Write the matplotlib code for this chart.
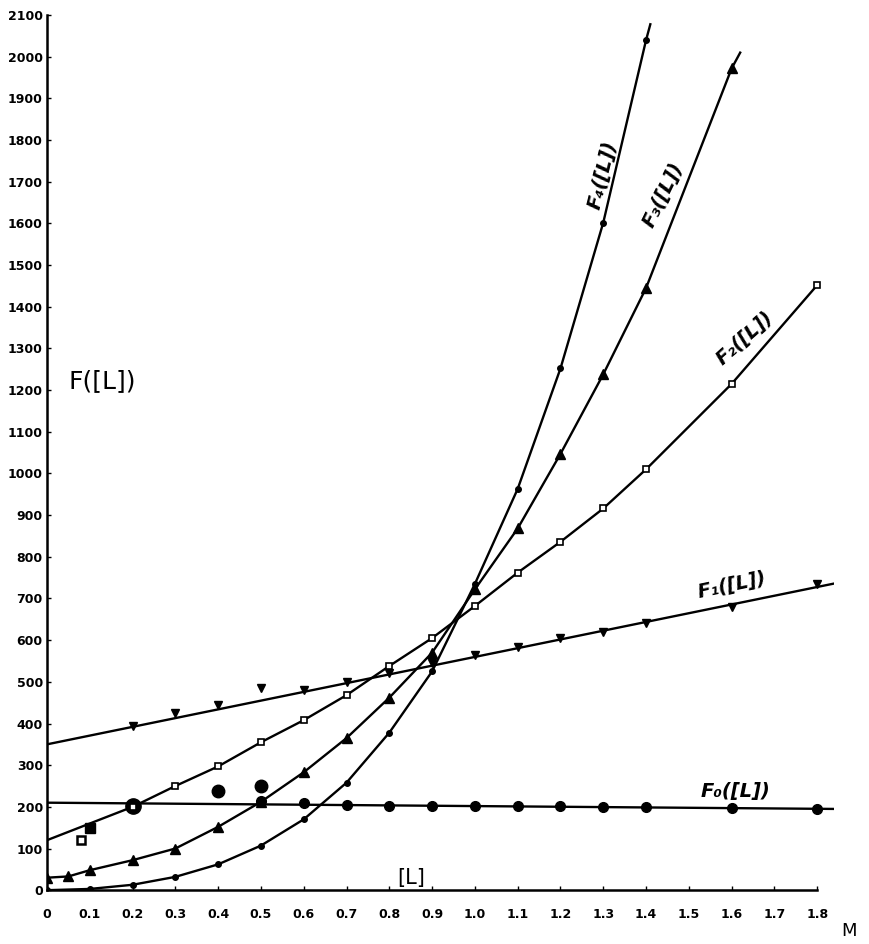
import matplotlib
matplotlib.use("Agg")
import matplotlib.pyplot as plt

# values
x_ticks = [0, 0.1, 0.2, 0.3, 0.4, 0.5, 0.6, 0.7, 0.8, 0.9, 1.0, 1.1, 1.2, 1.3, 1.4, 1.5, 1.6, 1.7, 1.8]
x_tick_labels = ["0", "0.1", "0.2", "0.3", "0.4", "0.5", "0.6", "0.7", "0.8", "0.9",
                 "1.0", "1.1", "1.2", "1.3", "1.4", "1.5", "1.6", "1.7", "1.8"]
y_ticks = list(range(0, 2101, 100))

# F0: nearly flat line, filled circles
f0_line_x = [0, 1.84]
f0_line_y = [210, 195]
f0_x = [0.2, 0.5, 0.6, 0.7, 0.8, 0.9, 1.0, 1.1, 1.2, 1.3, 1.4, 1.6, 1.8]
f0_y = [203, 213, 210, 205, 203, 203, 202, 202, 201, 200, 199, 197, 196]

# F1: straight line, inverted triangles
f1_line_x = [0, 1.84]
f1_line_y = [350, 736]
f1_x = [0.2, 0.3, 0.4, 0.5, 0.6, 0.7, 0.8, 0.9, 1.0, 1.1, 1.2, 1.3, 1.4, 1.6, 1.8]
f1_y = [395, 425, 444, 485, 480, 499, 522, 545, 564, 583, 605, 619, 640, 679, 735]

# F2: open squares
f2_x = [0, 0.2, 0.3, 0.4, 0.5, 0.6, 0.7, 0.8, 0.9, 1.0, 1.1, 1.2, 1.3, 1.4, 1.6, 1.8]
f2_y = [120, 200, 250, 297, 355, 408, 468, 538, 605, 682, 762, 836, 916, 1010, 1215, 1452]

# F3: filled triangles
f3_x = [0, 0.05, 0.1, 0.2, 0.3, 0.4, 0.5, 0.6, 0.7, 0.8, 0.9, 1.0, 1.1, 1.2, 1.3, 1.4, 1.6, 1.62]
f3_y = [30, 33, 48, 72, 100, 152, 212, 283, 365, 462, 570, 722, 868, 1047, 1238, 1445, 1972, 2010]

# F4: small dots
f4_x = [0, 0.1, 0.2, 0.3, 0.4, 0.5, 0.6, 0.7, 0.8, 0.9, 1.0, 1.1, 1.2, 1.3, 1.4, 1.41]
f4_y = [0, 3, 13, 32, 62, 107, 170, 258, 378, 525, 735, 963, 1252, 1602, 2040, 2078]

# stray points
stray_sq_x = [0.08]
stray_sq_y = [120]
stray_fsq_x = [0.1]
stray_fsq_y = [150]
stray_dot_x = [0.4, 0.5]
stray_dot_y = [237, 250]


def main():
    fig = plt.figure(figsize=(8.7, 9.44), dpi=100)
    ax = fig.add_axes([0.054, 0.057, 0.905, 0.927])
    lw = 1.7
    k = "black"

    ax.plot(f0_line_x, f0_line_y, color=k, lw=lw)
    ax.plot(f0_x, f0_y, "o", color=k, ms=7)
    ax.plot([0.2], [203], "o", color=k, ms=11)

    ax.plot(f1_line_x, f1_line_y, color=k, lw=lw)
    ax.plot(f1_x, f1_y, "v", color=k, ms=6)

    ax.plot(f2_x, f2_y, color=k, lw=lw)
    ax.plot(f2_x[1:], f2_y[1:], "s", color=k, mfc="white", mew=1.2, ms=5)

    ax.plot(f3_x, f3_y, color=k, lw=lw)
    ax.plot(f3_x[:-1], f3_y[:-1], "^", color=k, ms=7)

    ax.plot(f4_x, f4_y, color=k, lw=lw)
    ax.plot(f4_x[:-1], f4_y[:-1], "o", color=k, ms=4)

    ax.plot(stray_sq_x, stray_sq_y, "s", color=k, mfc="white", mew=1.8, ms=6)
    ax.plot(stray_fsq_x, stray_fsq_y, "s", color=k, ms=7)
    ax.plot(stray_dot_x, stray_dot_y, "o", color=k, ms=9)

    ax.set_xlim(0, 1.84)
    ax.set_ylim(0, 2100)
    for s in ["top", "right"]:
        ax.spines[s].set_visible(False)
    ax.spines["bottom"].set_bounds(0, 1.8)
    ax.spines["left"].set_linewidth(1.8)
    ax.spines["bottom"].set_linewidth(1.8)

    ax.set_xticks(x_ticks)
    ax.set_xticklabels(x_tick_labels)
    ax.set_yticks(y_ticks)
    ax.tick_params(axis="both", direction="in", length=3, width=1)
    ax.tick_params(axis="y", pad=3)
    ax.tick_params(axis="x", pad=13)
    for lab in ax.get_xticklabels() + ax.get_yticklabels():
        lab.set_fontweight("heavy")
        lab.set_fontsize(9)

    fig.text(0.985, 0.004, "M", fontsize=13, ha="right", va="bottom")
    ax.text(0.05, 1222, "F([L])", fontsize=18, ha="left", va="center")
    ax.text(0.85, 30, "[L]", fontsize=15, ha="center", va="center")

    lab_style = dict(fontsize=14, style="italic", fontweight="bold", ha="center", va="center")
    ax.text(1.30, 1716, "F₄([L])", rotation=76, **lab_style)
    ax.text(1.44, 1668, "F₃([L])", rotation=64, **lab_style)
    ax.text(1.63, 1325, "F₂([L])", rotation=42, **lab_style)
    ax.text(1.60, 732, "F₁([L])", rotation=12, **lab_style)
    ax.text(1.61, 236, "F₀([L])", rotation=0, **lab_style)

    fig.savefig("out.png", dpi=100)


if __name__ == "__main__":
    main()
